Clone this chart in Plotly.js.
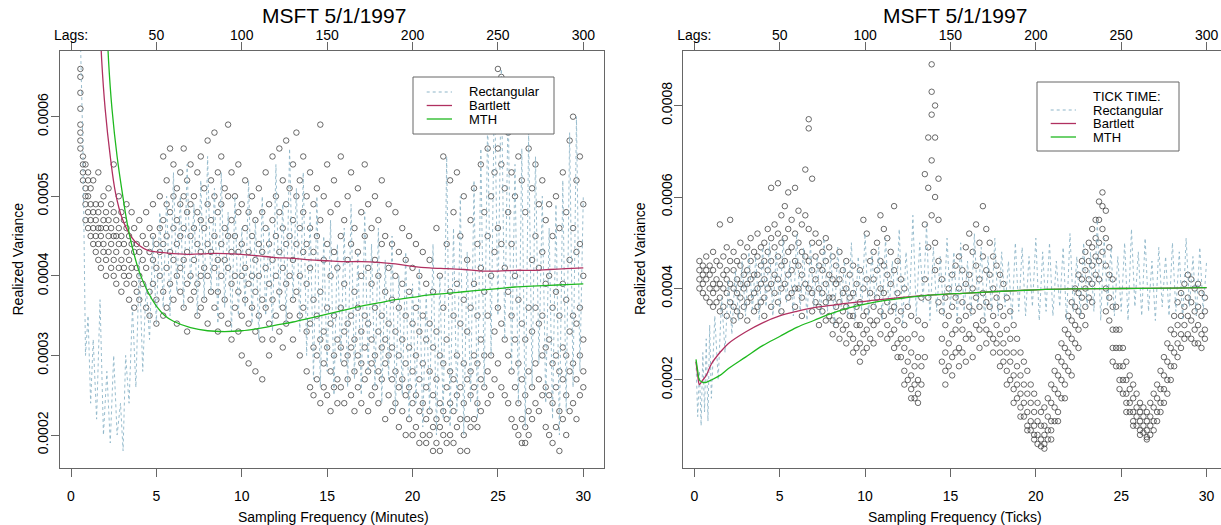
<!DOCTYPE html>
<html>
<head>
<meta charset="utf-8">
<script src="https://cdn.plot.ly/plotly-3.0.1.min.js"></script>
<style>html,body{margin:0;padding:0;background:#fff;}#chart{width:1221px;height:525px;}</style>
</head>
<body>
<div id="chart"></div>
<script>
// ---------- DATA (variance values in units of 1e-4) ----------
const xTicks = [0, 5, 10, 15, 20, 25, 30];
const lagLabels = ["Lags:", "50", "100", "150", "200", "250", "300"];
const leftYTicks = [0.0002, 0.0003, 0.0004, 0.0005, 0.0006];
const rightYTicks = [0.0002, 0.0004, 0.0006, 0.0008];
const legendLeft = ["Rectangular", "Bartlett", "MTH"];
const legendRight = ["TICK TIME:", "Rectangular", "Bartlett", "MTH"];

// Left panel: realized variance points (minutes)
const LPX = [0.55,0.7,0.85,1.0,1.15,1.3,1.45,1.6,1.75,1.9,2.05,2.2,2.35,2.5,2.65,2.8,2.95,3.1,3.25,3.4,3.55,3.7,3.85,4.0,4.2,4.4,4.6,4.8,5.0,5.2,5.4,5.6,5.8,6.0,6.2,6.4,6.6,6.8,7.0,7.2,7.4,7.6,7.8,8.0,8.2,8.4,8.6,8.8,9.0,9.2,9.4,9.6,9.8,10.0,10.2,10.4,10.6,10.8,11.0,11.2,11.4,11.6,11.8,12.0,12.2,12.4,12.6,12.8,13.0,13.2,13.4,13.6,13.8,14.0,14.2,14.4,14.6,14.8,15.0,15.2,15.4,15.6,15.8,16.0,16.2,16.4,16.6,16.8,17.0,17.2,17.4,17.6,17.8,18.0,18.2,18.4,18.6,18.8,19.0,19.2,19.4,19.6,19.8,20.0,20.2,20.4,20.6,20.8,21.0,21.2,21.4,21.6,21.8,22.0,22.2,22.4,22.6,22.8,23.0,23.2,23.4,23.6,23.8,24.0,24.2,24.4,24.6,24.8,25.0,25.2,25.4,25.6,25.8,26.0,26.2,26.4,26.6,26.8,27.0,27.2,27.4,27.6,27.8,28.0,28.2,28.4,28.6,28.8,29.0,29.2,29.4,29.6,29.8,30.0];
const LPY = [
[6.6,6.5,6.3,6.1,5.9,5.8,5.7,5.6],[5.5,5.4,5.3,5.2],[5.4,5.1,5.0,4.9,4.7],[5.3,5.0,4.8,4.6,5.2],[5.1,4.9,4.7,4.5],
[5.2,4.8,4.6,4.4],[4.9,4.7,4.5,4.3],[5.3,4.8,4.6,4.4,4.2],[4.9,4.6,4.5,4.1],[5.0,4.7,4.4,4.3],
[4.8,4.6,4.2,4.0],[5.1,4.7,4.5,4.3],[4.9,4.6,4.4,4.1],[5.4,4.8,4.5,4.2,4.0],[4.7,4.5,4.3,3.9],
[5.0,4.6,4.4,4.1],[4.8,4.5,4.2,3.8],[4.7,4.4,4.1,4.0],[4.9,4.6,4.3,3.9],[4.5,4.2,4.0,3.7],
[4.8,4.4,4.1],[4.6,4.3,3.9,3.6],[4.4,4.1,3.8],[4.7,4.3,4.0,3.7],[4.5,4.2,3.9],
[4.8,4.4,4.1,3.6],[4.6,4.3,3.8,3.5],[4.9,4.5,4.2,3.9],[4.4,4.1,3.7,3.4],[5.0,4.6,4.3,4.0],
[5.5,4.7,4.4,3.8,3.5],[5.2,4.9,4.5,4.1,3.6],[5.6,4.8,4.3,3.9],[5.4,5.0,4.6,4.2,3.7],[5.1,4.7,4.4,4.0,3.4],
[5.3,4.9,4.5,4.1,3.8],[5.6,5.0,4.6,4.2,3.6],[5.2,4.8,4.3,3.9,3.3],[5.4,4.9,4.5,4.0,3.7],[5.0,4.6,4.2,3.8],
[5.3,4.8,4.4,3.9,3.5],[5.5,4.7,4.3,4.0,3.6],[5.1,4.6,4.1,3.7],[5.7,4.9,4.4,4.0,3.4],[5.2,4.7,4.3,3.8],
[5.8,5.0,4.5,4.1,3.6],[5.3,4.8,4.2,3.8,3.3],[5.5,4.9,4.4,4.0,3.5],[5.1,4.6,4.2,3.7],[5.9,5.0,4.5,4.1,3.4],
[5.3,4.7,4.3,3.9,3.2],[5.0,4.5,4.0,3.6],[5.4,4.8,4.3,3.8,3.3],[4.9,4.4,4.0,3.5,3.0],[5.2,4.6,4.1,3.7],
[4.8,4.3,3.9,3.4,2.9],[5.0,4.5,4.0,3.6],[4.7,4.2,3.8,3.3,2.8],[5.1,4.4,4.0,3.5],[4.8,4.3,3.7,3.2,2.7],
[5.3,4.6,4.1,3.6],[4.9,4.4,3.9,3.4,3.0],[5.5,4.7,4.2,3.7,3.2],[5.0,4.5,4.0,3.5],[5.6,4.8,4.3,3.8,3.3],
[5.2,4.6,4.1,3.6,3.1],[5.7,4.9,4.4,3.9,3.4],[5.1,4.5,4.0,3.5],[5.4,4.7,4.2,3.7,3.2],[5.8,5.0,4.4,3.8],
[5.2,4.6,4.0,3.5,3.0],[5.5,4.8,4.3,3.6],[5.0,4.4,3.9,3.3,2.8],[5.3,4.6,4.1,3.4,2.6],[4.9,4.3,3.7,3.1,2.5],
[5.1,4.5,3.5,3.0,2.7],[5.9,4.7,3.8,3.2,2.4],[5.0,4.2,3.3,2.9,2.6],[5.4,4.4,3.6,3.1,2.5],[4.8,4.0,3.4,2.8,2.3],
[5.2,4.3,3.5,3.0,2.6],[4.9,4.1,3.2,2.7,2.4],[5.5,4.5,3.6,3.1,2.6],[4.7,3.9,3.3,2.9,2.4],[5.0,4.2,3.4,3.0,2.7],
[5.3,4.4,3.5,3.1,2.5],[4.6,3.8,3.2,2.8,2.3],[5.1,4.3,3.6,3.0,2.6],[4.8,4.0,3.3,2.9,2.4],[5.4,4.5,3.5,3.1,2.7],
[4.9,4.1,3.4,2.8,2.3],[4.6,3.9,3.2,2.9,2.5],[5.0,4.2,3.6,3.0,2.6],[4.7,4.0,3.3,2.8,2.4],[5.2,4.4,3.5,3.1,2.7],
[4.5,3.8,3.2,2.9,2.2],[4.9,4.1,3.4,3.0,2.5],[4.4,3.7,3.1,2.7,2.3],[4.8,4.0,3.3,2.8,2.4],[4.3,3.6,3.0,2.6,2.1],
[4.6,3.9,3.2,2.7,2.3],[4.2,3.5,2.9,2.5,2.0],[4.5,3.8,3.1,2.6,2.2],[4.1,3.4,2.8,2.4,2.0],[4.4,3.6,3.0,2.5,2.1],
[4.0,3.3,2.7,2.3,1.9],[4.3,3.5,2.9,2.4,2.0],[3.9,3.2,2.6,2.2,1.9],[4.2,3.4,2.8,2.3,2.0],[3.8,3.1,2.5,2.1,1.8],
[4.6,3.3,2.7,2.2,1.9],[4.0,3.0,2.4,2.1,1.8],[5.5,3.6,2.9,2.3,2.0],[4.4,3.2,2.6,2.2,1.9],[5.2,3.8,2.8,2.4,2.0],
[4.8,3.5,2.7,2.3,1.9],[5.3,3.9,3.0,2.5,2.1],[4.5,3.4,2.6,2.2,1.8],[5.0,3.7,2.9,2.4,2.0],[4.2,3.3,2.7,2.2,1.8],
[4.7,3.6,2.8,2.5,2.1],[5.1,3.9,3.0,2.6,2.2],[4.4,3.5,2.9,2.4,2.1],[5.4,4.1,3.2,2.7,2.3],[4.8,3.8,3.0,2.6],
[5.6,4.5,3.5,2.8,2.4],[6.0,5.0,4.0,3.0,2.5],[6.3,5.3,4.3,3.3,2.7],[6.6,5.6,4.6,3.6,2.9],[6.5,5.4,4.4,3.4,2.6],
[6.1,5.1,4.1,3.2,2.5],[5.8,4.8,3.8,3.0,2.4],[5.3,4.4,3.5,2.8,2.2],[5.0,4.0,3.2,2.6,2.1],[5.5,3.7,2.9,2.4,2.0],
[5.2,3.4,2.7,2.2,1.9],[4.8,3.2,2.5,2.1,1.9],[5.6,3.6,2.8,2.3,2.0],[5.1,4.2,3.3,2.6,2.2],[5.4,4.5,3.6,2.9,2.4],
[4.9,4.1,3.4,2.7,2.3],[5.2,4.3,3.5,3.0,2.5],[4.7,3.9,3.1,2.6,2.1],[4.9,4.0,3.2,2.5,2.0],[4.5,3.6,2.9,2.4,1.9],
[5.0,3.8,3.0,2.6,2.1],[4.6,3.5,2.8,2.3,1.8],[5.3,3.9,3.1,2.7,2.2],[4.8,3.7,3.0,2.5,2.0],[5.7,4.2,3.3,2.8,2.3],
[6.0,4.6,3.5,2.9,2.4],[5.2,4.3,3.4,2.7,2.2],[5.5,4.4,3.6,3.0,2.5],[4.9,4.0,3.2,2.8,2.6]
];

// Left panel: Rectangular kernel (dotted)
const LRX = [0.55,0.7,0.85,1.0,1.15,1.3,1.5,1.7,1.9,2.1,2.3,2.5,2.7,2.9,3.05,3.2,3.4,3.6,3.8,4.0,4.2,4.4,4.6,4.8,5.0,5.2,5.4,5.6,5.8,6.0,6.2,6.4,6.6,6.8,7.0,7.2,7.4,7.6,7.8,8.0,8.2,8.4,8.6,8.8,9.0,9.2,9.4,9.6,9.8,10.0,10.2,10.4,10.6,10.8,11.0,11.2,11.4,11.6,11.8,12.0,12.2,12.4,12.6,12.8,13.0,13.2,13.4,13.6,13.8,14.0,14.2,14.4,14.6,14.8,15.0,15.2,15.4,15.6,15.8,16.0,16.2,16.4,16.6,16.8,17.0,17.2,17.4,17.6,17.8,18.0,18.2,18.4,18.6,18.8,19.0,19.2,19.4,19.6,19.8,20.0,20.2,20.4,20.6,20.8,21.0,21.2,21.4,21.6,21.8,22.0,22.2,22.4,22.6,22.8,23.0,23.2,23.4,23.6,23.8,24.0,24.2,24.4,24.6,24.8,25.0,25.2,25.4,25.6,25.8,26.0,26.2,26.4,26.6,26.8,27.0,27.2,27.4,27.6,27.8,28.0,28.2,28.4,28.6,28.8,29.0,29.2,29.4,29.6,29.8,30.0];
const LRY = [7.0,5.6,3.0,3.5,2.4,3.2,2.2,3.7,2.0,2.8,1.9,3.0,2.0,2.4,1.8,3.0,2.4,3.6,2.6,4.2,
2.8,3.9,3.2,4.5,3.4,4.8,3.6,5.0,3.5,5.3,3.8,5.0,3.6,5.4,3.9,4.9,3.5,5.2,3.7,5.5,
3.8,5.1,3.4,5.3,3.6,4.8,3.3,5.0,3.5,4.6,3.6,5.2,3.4,4.7,3.2,5.0,3.5,4.6,3.3,5.4,
3.6,4.9,3.4,5.6,3.7,5.1,3.3,5.3,3.0,4.8,2.7,5.0,2.6,4.5,2.8,4.7,2.5,4.4,2.9,4.6,
2.6,4.9,2.7,4.3,2.5,4.8,2.8,4.4,2.6,4.6,2.4,4.2,2.7,4.5,2.3,4.0,2.5,4.3,2.2,3.9,
2.4,4.1,2.1,3.8,2.3,4.4,2.0,4.0,2.2,5.5,2.1,4.6,2.3,5.0,2.0,4.3,2.4,5.2,2.2,5.6,
2.6,6.0,3.0,6.5,3.5,6.6,3.2,6.2,2.8,5.4,2.4,5.6,2.1,5.8,2.6,5.5,2.9,5.0,2.4,4.6,
2.2,4.9,2.0,5.2,2.3,5.8,2.6,6.0,2.8,5.0];

// Left panel: Bartlett and MTH kernels
const LBX = [1.7,1.8,2.0,2.3,2.6,3.0,3.5,4.0,4.5,5,6,7,8,9,10,11,12,13,14,15,16,17,18,19,20,21,22,23,24,25,26,27,28,29,30];
const LBY = [7.2,6.7,6.1,5.5,5.05,4.72,4.5,4.38,4.32,4.3,4.28,4.27,4.28,4.28,4.27,4.25,4.23,4.22,4.2,4.19,4.18,4.18,4.17,4.15,4.12,4.1,4.09,4.08,4.06,4.06,4.07,4.07,4.08,4.09,4.1];
const LMX = [2.1,2.2,2.4,2.7,3.0,3.3,3.6,4.0,4.5,5,5.5,6,7,8,9,10,11,12,13,14,15,16,17,18,19,20,21,22,23,24,25,26,27,28,29,30];
const LMY = [7.2,6.7,6.1,5.5,5.05,4.65,4.35,4.05,3.8,3.62,3.5,3.43,3.35,3.31,3.3,3.31,3.34,3.38,3.42,3.47,3.52,3.57,3.62,3.66,3.7,3.73,3.76,3.78,3.8,3.82,3.84,3.86,3.87,3.88,3.89,3.9];

// Right panel: realized variance points (ticks)
const RPX = [0.3,0.5,0.7,0.9,1.1,1.3,1.5,1.7,1.9,2.1,2.3,2.5,2.7,2.9,3.1,3.3,3.5,3.7,3.9,4.1,4.3,4.5,4.7,4.9,5.1,5.3,5.5,5.7,5.9,6.1,6.3,6.5,6.7,6.9,7.1,7.3,7.5,7.7,7.9,8.1,8.3,8.5,8.7,8.9,9.1,9.3,9.5,9.7,9.9,10.1,10.3,10.5,10.7,10.9,11.1,11.3,11.5,11.7,11.9,12.1,12.3,12.5,12.7,12.9,13.1,13.3,13.5,13.7,13.9,14.1,14.3,14.5,14.7,14.9,15.1,15.3,15.5,15.7,15.9,16.1,16.3,16.5,16.7,16.9,17.1,17.3,17.5,17.7,17.9,18.1,18.3,18.5,18.7,18.9,19.1,19.3,19.5,19.7,19.9,20.1,20.3,20.5,20.7,20.9,21.1,21.3,21.5,21.7,21.9,22.1,22.3,22.5,22.7,22.9,23.1,23.3,23.5,23.7,23.9,24.1,24.3,24.5,24.7,24.9,25.1,25.3,25.5,25.7,25.9,26.1,26.3,26.5,26.7,26.9,27.1,27.3,27.5,27.7,27.9,28.1,28.3,28.5,28.7,28.9,29.1,29.3,29.5,29.7,29.9];
const RPY = [
[4.6,4.4,4.2,4.0],[4.5,4.3,4.1,3.9],[4.7,4.4,4.2,3.8],[4.5,4.3,4.0,3.7],[4.8,4.4,4.1,3.9,3.6],
[4.6,4.2,4.0,3.7],[5.4,4.5,4.1,3.8,3.5],[4.7,4.3,4.0,3.6],[4.9,4.4,4.2,3.9,3.4],[5.5,4.6,4.1,3.7],
[4.8,4.4,4.0,3.6,3.3],[4.6,4.2,3.9,3.5],[5.0,4.5,4.1,3.8,3.4],[4.7,4.3,4.0,3.6],[4.9,4.4,4.1,3.7,3.3],
[5.1,4.6,4.2,3.8],[4.8,4.3,3.9,3.5],[5.2,4.7,4.3,4.0,3.6],[4.9,4.5,4.1,3.7],[5.0,4.6,4.2,3.8,3.4],
[5.3,4.8,4.4,4.0],[6.2,5.1,4.6,4.1,3.6],[5.4,4.9,4.3,3.9],[6.3,5.2,4.7,4.2,3.7],[5.6,5.0,4.5,4.0,3.5],
[5.8,5.1,4.6,4.1],[6.1,5.3,4.8,4.3,3.8],[5.5,4.9,4.4,3.9],[6.2,5.2,4.6,4.0,3.6],[5.7,5.0,4.5,4.0],
[5.4,4.8,4.3,3.8,3.4],[6.6,5.6,4.7,4.1],[7.7,7.5,5.3,4.6,4.0],[6.4,5.0,4.4,3.9,3.5],[5.2,4.7,4.2,3.7],
[5.0,4.5,4.0,3.6,3.2],[4.8,4.4,3.9,3.5],[5.1,4.6,4.1,3.7,3.3],[4.9,4.3,3.8,3.4],[4.7,4.2,3.8,3.3,3.0],
[4.5,4.1,3.6,3.2],[4.8,4.2,3.7,3.3,2.9],[4.4,3.9,3.5,3.1],[4.6,4.0,3.6,3.2,2.8],[4.3,3.8,3.4,3.0],
[4.5,3.9,3.4,2.9,2.6],[4.1,3.6,3.2,2.7],[4.4,3.7,3.2,2.8,2.4],[5.5,4.0,3.4,3.0,2.6],[5.2,4.2,3.5,3.1,2.7],
[4.6,3.9,3.3,2.9],[4.8,4.2,3.6,3.2,2.8],[5.0,4.4,3.8,3.3],[5.6,4.6,4.0,3.5,3.0],[5.3,4.5,3.9,3.4],
[5.1,4.3,3.7,3.2,2.9],[4.8,4.1,3.5,3.0],[5.8,4.4,3.6,3.1,2.7],[4.6,3.9,3.3,2.8,2.5],[4.2,3.5,2.9,2.5],
[4.0,3.2,2.7,2.2,1.9],[3.6,2.9,2.4,2.0],[3.4,2.6,2.1,1.8,1.6],[3.0,2.3,1.9,1.6],[3.3,2.5,2.0,1.7,1.5],
[3.8,2.9,2.3,1.9],[6.5,5.4,4.2,3.2,2.5],[7.3,6.2,4.9,3.8],[8.9,8.3,7.8,6.8,5.6],[8.0,7.3,6.0,5.0,4.4],
[6.4,5.5,4.6,3.7],[4.2,3.5,2.9,2.4],[3.8,3.2,2.6,2.2,1.9],[4.0,3.4,2.8,2.3],[4.3,3.6,3.0,2.5,2.1],
[4.5,3.8,3.1,2.6],[4.7,4.0,3.3,2.7,2.3],[4.4,3.7,3.1,2.6],[4.9,4.1,3.4,2.9,2.4],[5.2,4.3,3.6,3.0],
[4.8,4.0,3.5,2.9,2.5],[5.4,4.5,3.8,3.2],[5.0,4.2,3.6,3.1,2.7],[5.8,4.7,3.9,3.3],[5.3,4.4,3.7,3.1,2.8],
[5.0,4.3,3.6,3.0],[4.7,4.0,3.4,2.9,2.6],[4.5,3.8,3.2,2.8],[4.3,3.6,3.0,2.6,2.3],[4.1,3.4,2.8,2.4],
[3.8,3.1,2.6,2.2,1.9],[3.5,2.9,2.4,2.0],[3.2,2.6,2.1,1.8,1.5],[2.9,2.3,1.9,1.6],[2.6,2.1,1.7,1.4,1.2],
[2.4,1.9,1.5,1.2],[2.2,1.7,1.3,1.0,0.9],[1.9,1.5,1.1,0.9],[1.7,1.3,1.0,0.8,0.7],[1.5,1.1,0.8,0.6],
[1.3,1.0,0.7,0.55],[1.4,1.0,0.8,0.6,0.5],[1.6,1.2,0.9,0.7],[1.9,1.5,1.1,0.9,0.7],[2.2,1.8,1.4,1.1],
[2.5,2.1,1.7,1.3,1.1],[2.8,2.4,2.0,1.6],[3.1,2.7,2.3,1.9,1.6],[3.4,3.0,2.6,2.2],[3.7,3.3,2.9,2.5,2.1],
[4.0,3.6,3.2,2.8],[4.3,3.9,3.5,3.1,2.7],[4.6,4.2,3.8,3.4],[4.8,4.4,4.0,3.6,3.2],[5.0,4.6,4.2,3.8],
[5.3,4.9,4.5,4.1,3.7],[5.5,5.1,4.7,4.3],[5.9,5.5,5.0,4.6,4.2],[6.1,5.8,5.3,4.8],[5.7,5.1,4.5,4.0,3.5],
[4.9,4.3,3.8,3.3],[4.2,3.6,3.1,2.7,2.4],[3.6,3.1,2.7,2.3],[3.1,2.7,2.3,2.0,1.8],[2.7,2.3,2.0,1.7],
[2.4,2.0,1.7,1.5,1.3],[2.1,1.8,1.5,1.3],[1.9,1.6,1.3,1.1,1.0],[1.7,1.4,1.2,1.0],[1.5,1.3,1.1,0.9,0.8],
[1.4,1.2,1.0,0.85],[1.3,1.1,0.9,0.75,0.7],[1.5,1.2,1.0,0.8],[1.7,1.4,1.1,0.9],[1.9,1.6,1.3,1.1],
[2.2,1.8,1.5,1.3],[2.5,2.1,1.8,1.5],[2.8,2.4,2.0,1.7],[3.1,2.7,2.3,2.0],[3.4,3.0,2.6,2.3],
[3.7,3.2,2.8,2.5],[3.9,3.4,3.0,2.7],[4.1,3.6,3.2,2.9],[4.3,3.8,3.4,3.0],[4.2,3.7,3.3,2.9],
[4.0,3.5,3.1,2.8],[4.1,3.6,3.2,2.8],[3.9,3.4,3.0,2.7],[3.8,3.5,3.1,2.9]
];

// Right panel: Rectangular kernel (dotted)
const RRX = [0.1,0.2,0.3,0.4,0.5,0.6,0.7,0.8,0.9,1.0,1.2,1.4,1.6,1.8,2.0,2.2,2.4,2.6,2.8,3.0,3.2,3.4,3.6,3.8,4.0,4.2,4.4,4.6,4.8,5.0,5.2,5.4,5.6,5.8,6.0,6.2,6.4,6.6,6.8,7.0,7.2,7.4,7.6,7.8,8.0,8.2,8.4,8.6,8.8,9.0,9.2,9.4,9.6,9.8,10.0,10.2,10.4,10.6,10.8,11.0,11.2,11.4,11.6,11.8,12.0,12.2,12.4,12.6,12.8,13.0,13.2,13.4,13.6,13.8,14.0,14.2,14.4,14.6,14.8,15.0,15.2,15.4,15.6,15.8,16.0,16.2,16.4,16.6,16.8,17.0,17.2,17.4,17.6,17.8,18.0,18.2,18.4,18.6,18.8,19.0,19.2,19.4,19.6,19.8,20.0,20.2,20.4,20.6,20.8,21.0,21.2,21.4,21.6,21.8,22.0,22.2,22.4,22.6,22.8,23.0,23.2,23.4,23.6,23.8,24.0,24.2,24.4,24.6,24.8,25.0,25.2,25.4,25.6,25.8,26.0,26.2,26.4,26.6,26.8,27.0,27.2,27.4,27.6,27.8,28.0,28.2,28.4,28.6,28.8,29.0,29.2,29.4,29.6,29.8,30.0];
const RRY = [2.4,1.2,2.2,1.0,2.6,1.3,2.9,1.1,3.2,1.6,
3.4,2.0,3.8,2.6,4.2,3.0,4.4,3.3,4.6,3.4,
4.8,3.5,4.7,3.3,4.9,3.6,5.0,3.4,4.8,3.5,
5.1,3.7,4.6,3.4,5.2,3.5,4.9,3.3,5.0,3.6,
4.7,3.4,5.1,3.5,4.8,3.2,4.9,3.6,4.6,3.4,
5.0,3.3,4.7,3.5,5.2,3.4,4.8,3.6,4.9,3.3,
5.1,3.5,4.6,3.4,5.3,3.2,4.8,3.6,5.6,3.4,
5.0,3.7,5.4,3.3,4.9,3.5,4.7,3.4,5.1,3.6,
4.8,3.3,5.0,3.5,4.6,3.4,5.2,3.6,4.9,3.3,
4.7,3.5,5.1,3.4,4.8,3.6,4.6,3.3,5.0,3.5,
4.9,3.4,4.7,3.6,5.1,3.3,4.8,3.5,5.0,3.4,
4.6,3.6,4.9,3.3,5.2,3.5,4.7,3.4,5.0,3.6,
4.8,3.5,5.5,3.3,5.1,3.6,4.9,3.4,4.7,3.5,
5.0,3.3,5.3,3.6,4.8,3.4,5.1,3.5,4.6,3.3,
4.9,3.6,4.7,3.4,5.0,3.5,4.8,3.3,5.1,3.6,
4.7,3.4,4.9,3.5,4.6];

// Right panel: Bartlett and MTH kernels
const RBX = [0.1,0.2,0.3,0.4,0.5,0.7,1.0,1.5,2,3,4,5,6,7,8,9,10,12,14,16,18,20,22,25,28,30];
const RBY = [2.4,2.1,1.9,1.95,2.0,2.1,2.35,2.6,2.8,3.05,3.25,3.4,3.5,3.58,3.63,3.68,3.72,3.8,3.86,3.9,3.94,3.97,3.99,4.0,4.01,4.02];
const RMX = [0.1,0.2,0.3,0.5,0.7,1.0,1.5,2,3,4,5,6,7,8,9,10,11,12,14,16,18,20,22,25,28,30];
const RMY = [2.45,2.2,2.0,1.95,1.95,2.0,2.1,2.25,2.5,2.75,2.95,3.15,3.3,3.45,3.57,3.66,3.73,3.78,3.86,3.9,3.94,3.97,3.99,4.0,4.01,4.02];

// ---------- BUILD ----------
(function () {
const S = 1e-4;
const sc = a => a.map(v => v * S);
function flat(cx, cy) {
  const X = [], Y = [];
  cx.forEach((x, i) => cy[i].forEach(v => { X.push(x); Y.push(v * S); }));
  return [X, Y];
}
const [lpx, lpy] = flat(LPX, LPY);
const [rpx, rpy] = flat(RPX, RPY);

const W = 1221, H = 525;
const FONT = "Liberation Sans, Arial, Helvetica, sans-serif";
const cRect = "#8db5c8", cBart = "#b03060", cMTH = "#1fb91f", cAx = "#666";

const pts = (x, y, xa, ya) => ({type: "scatter", mode: "markers", x, y, xaxis: xa, yaxis: ya,
  marker: {symbol: "circle-open", size: 5.5, color: "#3a3a3a", line: {width: 0.75, color: "#3a3a3a"}}, hoverinfo: "skip"});
const line = (x, y, xa, ya, color, dash, w, shape) => ({type: "scatter", mode: "lines", x, y, xaxis: xa, yaxis: ya,
  line: {color, dash, width: w, shape: shape || "linear"}, hoverinfo: "skip"});
// invisible helpers so the top "Lags" axes get drawn
const helper = (xa, ya) => ({type: "scatter", mode: "markers", x: [15], y: [null], xaxis: xa, yaxis: ya,
  marker: {opacity: 0}, hoverinfo: "skip"});

const traces = [
  pts(lpx, lpy, "x", "y"),
  line(LRX, sc(LRY), "x", "y", cRect, "dot", 0.9),
  line(LBX, sc(LBY), "x", "y", cBart, "solid", 1.3, "spline"),
  line(LMX, sc(LMY), "x", "y", cMTH, "solid", 1.3, "spline"),
  pts(rpx, rpy, "x2", "y2"),
  line(RRX, sc(RRY), "x2", "y2", cRect, "dot", 0.9),
  line(RBX, sc(RBY), "x2", "y2", cBart, "solid", 1.3, "spline"),
  line(RMX, sc(RMY), "x2", "y2", cMTH, "solid", 1.3, "spline"),
  helper("x3", "y"),
  helper("x4", "y2")
];

// geometry (pixels)
const L = {l: 60, r: 604.3}, R = {l: 683.3, r: 1221};
const boxTop = 50.7, boxBot = 467.5;
const px = v => v / W, py = v => 1 - v / H;
const yDom = [py(boxBot), py(boxTop)];
const tf = {family: FONT, size: 14, color: "#000"};

const baseX = {ticks: "outside", ticklen: 8, tickcolor: cAx, tickwidth: 1, showgrid: false, zeroline: false,
  tickvals: xTicks, tickfont: tf, ticklabelstandoff: 8, autorange: false};
const baseY = {ticks: "outside", ticklen: 8, tickcolor: cAx, tickwidth: 1, showgrid: false, zeroline: false,
  tickangle: -90, tickformat: ".4f", tickfont: tf, showline: true, linecolor: cAx, linewidth: 1, autorange: false,
  ticklabelstandoff: -3};

const layout = {
  width: W, height: H, margin: {l: 0, r: 0, t: 0, b: 0}, paper_bgcolor: "#fff", plot_bgcolor: "#fff",
  showlegend: false, font: {family: FONT, color: "#000"},
  xaxis: Object.assign({}, baseX, {domain: [px(L.l), px(L.r)], range: [-0.644, 31.23], anchor: "y",
    showline: true, linecolor: cAx, linewidth: 1, mirror: true}),
  yaxis: Object.assign({}, baseY, {domain: yDom, range: [1.592e-4, 6.829e-4], anchor: "x", mirror: true, tickvals: leftYTicks}),
  xaxis3: Object.assign({}, baseX, {overlaying: "x", side: "top", anchor: "y", range: [-0.644, 31.23],
    ticktext: lagLabels, showline: false, ticklabelstandoff: -4}),
  xaxis2: Object.assign({}, baseX, {domain: [px(R.l), 1], range: [-0.644, 30.843], anchor: "y2",
    showline: true, linecolor: cAx, linewidth: 1, mirror: true}),
  yaxis2: Object.assign({}, baseY, {domain: yDom, range: [0.087e-4, 9.198e-4], anchor: "x2", mirror: false, tickvals: rightYTicks}),
  xaxis4: Object.assign({}, baseX, {overlaying: "x2", side: "top", anchor: "y2", range: [-0.644, 30.843],
    ticktext: lagLabels, showline: false, ticklabelstandoff: -4}),
  shapes: [],
  annotations: []
};

const ann = (text, x, y, o) => Object.assign({text, x: px(x), y: py(y), xref: "paper", yref: "paper",
  showarrow: false, xanchor: "center", yanchor: "middle", font: tf, borderpad: 0}, o || {});
const titleFont = {family: FONT, size: 21, color: "#000"};
layout.annotations.push(
  ann("MSFT 5/1/1997", 334, 15, {font: titleFont}),
  ann("MSFT 5/1/1997", 955.5, 15, {font: titleFont}),
  ann("Sampling Frequency (Minutes)", 333, 517),
  ann("Sampling Frequency (Ticks)", 955.5, 517),
  ann("Realized Variance", 17.5, 259, {textangle: -90}),
  ann("Realized Variance", 640, 259, {textangle: -90})
);

const lf = {family: FONT, size: 13, color: "#000"};
function legend(x0, x1, y0, y1, rows, labels, styles) {
  layout.shapes.push({type: "rect", xref: "paper", yref: "paper", x0: px(x0), x1: px(x1), y0: py(y1), y1: py(y0),
    line: {color: cAx, width: 1}, fillcolor: "#fff", layer: "above"});
  labels.forEach((t, i) => {
    const st = styles[i];
    if (st) layout.shapes.push({type: "line", xref: "paper", yref: "paper", x0: px(x0 + 13.7), x1: px(x0 + 39),
      y0: py(rows[i]), y1: py(rows[i]), line: {color: st.c, dash: st.d, width: st.w}, layer: "above"});
    layout.annotations.push(ann(t, x0 + 54.7, rows[i], {xanchor: "left", font: lf}));
  });
}
const kStyles = [{c: cRect, d: "dot", w: 1}, {c: cBart, d: "solid", w: 1.3}, {c: cMTH, d: "solid", w: 1.3}];
legend(413, 554, 77, 134, [92, 105.5, 119], legendLeft, kStyles);
legend(1037, 1179, 82, 151, [96.5, 110, 123.5, 137], legendRight, [null].concat(kStyles));

Plotly.newPlot("chart", traces, layout, {staticPlot: true, displayModeBar: false});
})();
</script>
</body>
</html>
